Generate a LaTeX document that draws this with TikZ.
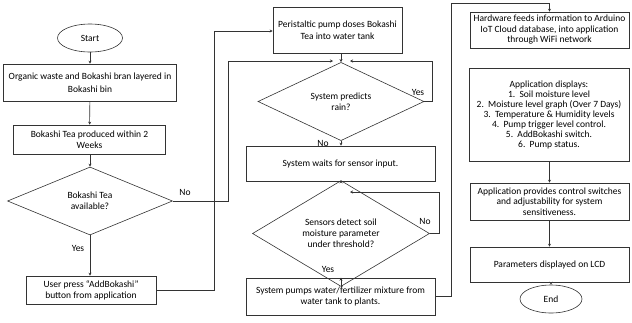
\documentclass[tikz,border=0pt]{standalone}
\usepackage{fontspec}
\setmainfont{Carlito}
\usetikzlibrary{shapes.geometric,arrows.meta}
\begin{document}
\begin{tikzpicture}[x=1pt,y=-1pt,
  every node/.style={font=\fontsize{9.5}{11}\selectfont, align=center, inner sep=1pt},
  box/.style={draw=black!80, line width=0.6pt, rectangle},
  term/.style={draw=black!80, line width=0.6pt, ellipse},
  dec/.style={draw=black!80, line width=0.6pt, diamond, inner sep=0pt},
  conn/.style={draw=black!80, line width=0.6pt},
  arr/.style={conn, -{Stealth[length=3pt,width=3pt]}},
  lbl/.style={font=\fontsize{9.5}{11}\selectfont}]
\useasboundingbox (0,0) rectangle (632,322);
% column 1
\node[term, minimum width=65pt, minimum height=28pt] (start) at (90,38) {Start};
\node[box, minimum width=173pt, minimum height=37pt, font=\fontsize{9.5}{13}\selectfont] (b1) at (90,82.5) {Organic waste and Bokashi bran layered in\\Bokashi bin};
\node[box, minimum width=152pt, minimum height=29pt] (b2) at (89.5,139.5) {Bokashi Tea produced within 2\\Weeks};
\node[dec, minimum width=165pt, minimum height=68pt] (d1) at (90,201) {Bokashi Tea\\available?};
\node[box, minimum width=130pt, minimum height=28pt] (u) at (91,290) {User press “AddBokashi”\\button from application};
% column 2
\node[box, minimum width=129pt, minimum height=46pt, font=\fontsize{9.5}{12}\selectfont] (p) at (337.5,30) {Peristaltic pump doses Bokashi\\Tea into water tank};
\node[dec, minimum width=166pt, minimum height=69pt] (d2) at (341,101.5) {System predicts\\rain?};
\node[box, minimum width=189pt, minimum height=35pt] (w) at (340.5,163.5) {System waits for sensor input.};
\node[dec, minimum width=177pt, minimum height=69pt] (d3) at (341,233.5) {Sensors detect soil\\moisture parameter\\under threshold?};
\node[box, minimum width=189pt, minimum height=37pt] (m) at (340.5,296.5) {System pumps water/fertilizer mixture from\\water tank to plants.};
% column 3
\node[box, minimum width=159pt, minimum height=36pt, font=\fontsize{9.5}{10.5}\selectfont] (h) at (549.5,30) {Hardware feeds information to Arduino\\IoT Cloud database, into application\\through WiFi network};
\node[box, minimum width=160pt, minimum height=93pt, font=\fontsize{9.5}{10}\selectfont] (a) at (549,114.5) {Application displays:\\1.\ \ Soil moisture level\\2.\ \ Moisture level graph (Over 7 Days)\\3.\ \ Temperature \& Humidity levels\\4.\ \ Pump trigger level control.\\5.\ \ AddBokashi switch.\\6.\ \ Pump status.};
\node[box, minimum width=159pt, minimum height=37pt, font=\fontsize{9.5}{10.5}\selectfont] (c) at (549.5,201.5) {Application provides control switches\\and adjustability for system\\sensitiveness.};
\node[box, minimum width=159pt, minimum height=35pt] (l) at (549.5,264.5) {Parameters displayed on LCD};
\node[term, minimum width=62pt, minimum height=28pt] (e) at (551,299) {End};
% bend points
\coordinate (n1a) at (228,201);
\coordinate (n1b) at (228,61);
\coordinate (n1c) at (333,61);
\coordinate (u1) at (214,290);
\coordinate (u2) at (214,31);
\coordinate (y2a) at (432,101.5);
\coordinate (y2b) at (432,61);
\coordinate (y2c) at (350,61);
\coordinate (n3a) at (439,233.5);
\coordinate (n3b) at (439,192);
\coordinate (n3c) at (350,192);
\coordinate (m1) at (451,296.5);
\coordinate (m2) at (451,3);
\coordinate (m3) at (549.5,3);
% connectors
\draw[arr] (start) -- (b1);
\draw[arr] (b1) -- (b2);
\draw[arr] (b2.south -| d1.north) -- (d1.north);
\draw[arr] (d1.south) -- (d1.south |- u.north);
\draw[arr] (d1.east) -- (n1a) -- (n1b) -- (n1c);
\draw[arr] (u.east) -- (u1) -- (u2) -- (u2 -| p.west);
\draw[arr] (p.south -| d2.north) -- (d2.north);
\draw[arr] (d2.east) -- (y2a) -- (y2b) -- (y2c);
\draw[arr] (d2.south) -- (d2.south |- w.north);
\draw[arr] (w.south -| d3.north) -- (d3.north);
\draw[arr] (d3.east) -- (n3a) -- (n3b) -- (n3c);
\draw[arr] (d3.south) -- (d3.south |- m.north);
\draw[arr] (m.east) -- (m1) -- (m2) -- (m3) -- (h.north);
\draw[arr] (a.south -| c.north) -- (c.north);
\draw[arr] (c) -- (l);
\draw[arr] (l.south -| e.north) -- (e.north);
% labels
\node[lbl] (l1) at (185,192) {No};
\node[lbl] (l2) at (78,248) {Yes};
\node[lbl] (l3) at (418,92) {Yes};
\node[lbl] (l4) at (323,143) {No};
\node[lbl] (l5) at (425,221) {No};
\node[lbl] (l6) at (328,269) {Yes};
\end{tikzpicture}
\end{document}
